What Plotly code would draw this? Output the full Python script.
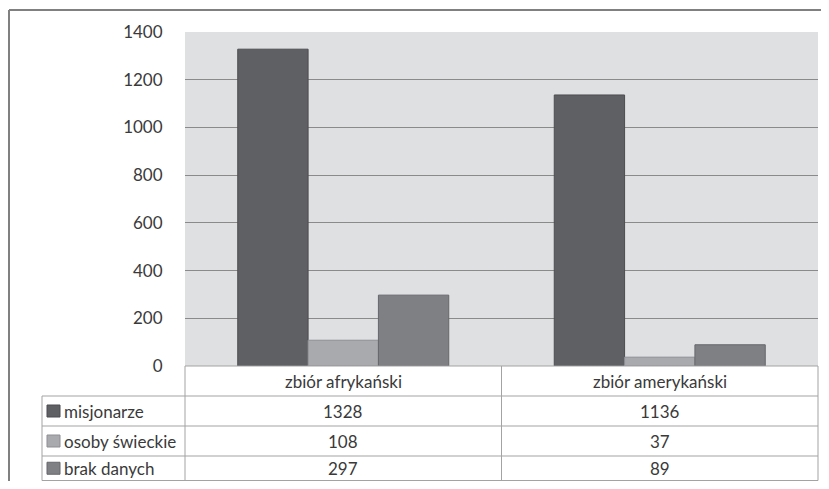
import plotly.graph_objects as go

categories = ["zbiór afrykański", "zbiór amerykański"]
series_names = ["misjonarze", "osoby świeckie", "brak danych"]
misjonarze = [1328, 1136]
osoby_swieckie = [108, 37]
brak_danych = [297, 89]
y_ticks = [0, 200, 400, 600, 800, 1000, 1200, 1400]

series_values = [misjonarze, osoby_swieckie, brak_danych]
colors = ["#5f6064", "#a9aaae", "#7f8084"]
outlines = ["#4c4d50", "#8e8f93", "#66676b"]

# page has an 8px body margin; figure sized to fit the window
OFF = 8
W, H = 829 - 2 * OFF, 489 - 2 * OFF
def px(x):
    return (x - OFF) / W
def py(y):
    return 1 - (y - OFF) / H

PL, PR, PT, PB = 185, 818, 32, 366
TL = 42
rows_y = [366, 396, 426, 456, 480.5]
col_x = [PL, (PL + PR) / 2, PR]
FONT = "Lato"
FS = 17
TXT = "#3a3a3a"
GRID = "#8a8a8a"
TBL = "#a3a3a3"

fig = go.Figure()
for name, vals, c, oc in zip(series_names, series_values, colors, outlines):
    fig.add_trace(go.Bar(x=categories, y=vals, name=name, marker=dict(color=c, line=dict(color=oc, width=1))))

shapes = []
annotations = []
# outer frame
shapes.append(dict(type="line", xref="paper", yref="paper", x0=px(9), x1=1, y0=py(10), y1=py(10), line=dict(color="#808080", width=2)))
shapes.append(dict(type="line", xref="paper", yref="paper", x0=px(9), x1=px(9), y0=py(10), y1=0, line=dict(color="#808080", width=2)))

# table lines
shapes.append(dict(type="line", xref="paper", yref="paper", x0=px(PL), x1=px(PR), y0=py(rows_y[0]), y1=py(rows_y[0]), line=dict(color=TBL, width=1)))
for yy in rows_y[1:]:
    shapes.append(dict(type="line", xref="paper", yref="paper", x0=px(TL), x1=px(PR), y0=py(yy), y1=py(yy), line=dict(color=TBL, width=1)))
shapes.append(dict(type="line", xref="paper", yref="paper", x0=px(TL), x1=px(TL), y0=py(rows_y[1]), y1=py(rows_y[-1]), line=dict(color=TBL, width=1)))
for xx in col_x:
    shapes.append(dict(type="line", xref="paper", yref="paper", x0=px(xx), x1=px(xx), y0=py(rows_y[0]), y1=py(rows_y[-1]), line=dict(color=TBL, width=1)))

# header
for i, cat in enumerate(categories):
    cx = (col_x[i] + col_x[i + 1]) / 2
    annotations.append(dict(xref="paper", yref="paper", x=px(cx), y=py((rows_y[0] + rows_y[1]) / 2), text=cat, showarrow=False, font=dict(family=FONT, size=FS, color=TXT), xanchor="center", yanchor="middle"))

# rows
for r, (name, vals, c, oc) in enumerate(zip(series_names, series_values, colors, outlines)):
    ymid = (rows_y[r + 1] + rows_y[r + 2]) / 2
    shapes.append(dict(type="rect", xref="paper", yref="paper", x0=px(47), x1=px(60), y0=py(ymid - 6), y1=py(ymid + 6), fillcolor=c, line=dict(color=oc, width=1)))
    annotations.append(dict(xref="paper", yref="paper", x=px(62), y=py(ymid), text=name, showarrow=False, font=dict(family=FONT, size=FS, color=TXT), xanchor="left", yanchor="middle"))
    for i, v in enumerate(vals):
        cx = (col_x[i] + col_x[i + 1]) / 2
        annotations.append(dict(xref="paper", yref="paper", x=px(cx), y=py(ymid), text=str(v), showarrow=False, font=dict(family=FONT, size=FS, color=TXT), xanchor="center", yanchor="middle"))

fig.update_layout(
    width=W, height=H,
    margin=dict(l=0, r=0, t=0, b=0, pad=0, autoexpand=False),
    paper_bgcolor="white",
    plot_bgcolor="#dfe0e2",
    barmode="group",
    bargap=1/3,
    bargroupgap=0,
    showlegend=False,
    shapes=shapes,
    annotations=annotations,
    xaxis=dict(domain=[px(PL), px(PR)], showticklabels=False, showgrid=False, zeroline=False, showline=False, automargin=False),
    yaxis=dict(domain=[py(PB), py(PT)], range=[0, 1400], tickvals=y_ticks, ticktext=[str(t) for t in y_ticks],
               showgrid=True, gridcolor=GRID, gridwidth=1, zeroline=False, showline=False, automargin=False,
               ticks="outside", ticklen=0, ticklabelstandoff=18,
               tickfont=dict(family=FONT, size=FS, color=TXT)),
)

fig.write_html("out.html")
